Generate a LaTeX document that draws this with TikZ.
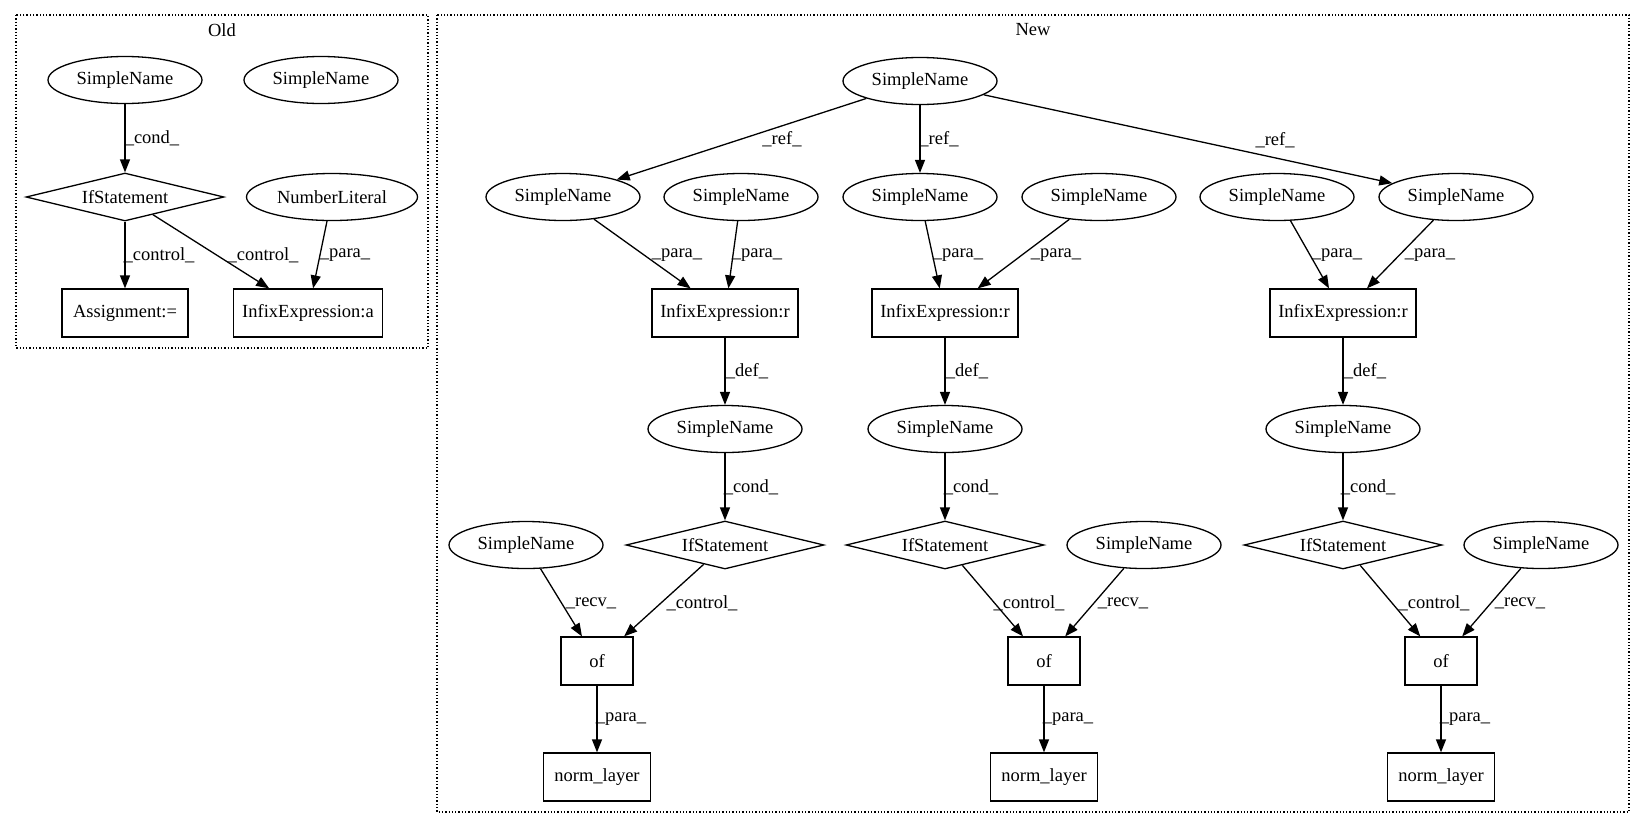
\documentclass[tikz,border=0pt]{standalone}
\usepackage{fontspec}
\setmainfont{Liberation Serif}
\usetikzlibrary{shapes.geometric,arrows.meta}
\tikzset{
  every node/.style={font=\fontsize{18.5}{22}\selectfont},
  ell/.style={draw,ellipse,line width=1.3pt,inner sep=0pt,minimum width=154pt,minimum height=47pt},
  dia/.style={draw,diamond,aspect=4.125,line width=1.3pt,inner sep=0pt,minimum width=198pt,minimum height=48pt},
  box/.style={draw,rectangle,line width=1.3pt,inner sep=0pt,minimum height=48pt},
  edge/.style={line width=1.3pt,-{Triangle[length=13pt,width=10pt]}},
  lbl/.style={inner sep=0pt},
  clus/.style={line width=1.3pt,dotted}
}
\begin{document}
\begin{tikzpicture}[x=1pt,y=-1pt]
      \useasboundingbox (0,0) rectangle (1645,828);
      % clusters
      \draw[clus] (16,15) rectangle (428,348);
      \draw[clus] (437,15) rectangle (1629,812);
      \node (old) at (222,30) {Old};
      \node (new) at (1033,30) {New};
      % old
      \node[ell] (oSN1) at (125,80) {SimpleName};
      \node[ell] (oSN2) at (321,80) {SimpleName};
      \node[dia] (oIf) at (125,197) {IfStatement};
      \node[ell,minimum width=171pt] (oNum) at (332,197) {NumberLiteral};
      \node[box,minimum width=126pt] (oAssign) at (125,313) {Assignment:=};
      \node[box,minimum width=149pt] (oInfix) at (308,313) {InfixExpression:a};
      % new
      \node[ell] (top) at (920,81) {SimpleName};
      \node[ell] (sA1) at (563,197) {SimpleName};
      \node[ell] (sB1) at (741,197) {SimpleName};
      \node[ell] (sA2) at (920,197) {SimpleName};
      \node[ell] (sB2) at (1099,197) {SimpleName};
      \node[ell] (sB3) at (1277,197) {SimpleName};
      \node[ell] (sA3) at (1456,197) {SimpleName};
      \node[box,minimum width=146pt] (inf1) at (725,313) {InfixExpression:r};
      \node[box,minimum width=146pt] (inf2) at (945,313) {InfixExpression:r};
      \node[box,minimum width=146pt] (inf3) at (1343,313) {InfixExpression:r};
      \node[ell] (def1) at (725,429) {SimpleName};
      \node[ell] (def2) at (945,429) {SimpleName};
      \node[ell] (def3) at (1343,429) {SimpleName};
      \node[dia] (if1) at (725,545) {IfStatement};
      \node[dia] (if2) at (945,545) {IfStatement};
      \node[dia] (if3) at (1343,545) {IfStatement};
      \node[ell] (recv1) at (526,545) {SimpleName};
      \node[ell] (recv2) at (1144,545) {SimpleName};
      \node[ell] (recv3) at (1541,545) {SimpleName};
      \node[box,minimum width=72pt] (of1) at (597,661) {of};
      \node[box,minimum width=72pt] (of2) at (1044,661) {of};
      \node[box,minimum width=72pt] (of3) at (1441,661) {of};
      \node[box,minimum width=107pt] (norm1) at (597,777) {norm\_layer};
      \node[box,minimum width=107pt] (norm2) at (1044,777) {norm\_layer};
      \node[box,minimum width=107pt] (norm3) at (1441,777) {norm\_layer};
      % old edges
      \draw[edge] (oSN1) -- (oIf) node[lbl] at (152,138) {\_cond\_};
      \draw[edge] (oIf) -- (oAssign) node[lbl] at (159,255) {\_control\_};
      \draw[edge] (oIf) -- (oInfix) node[lbl] at (263,255) {\_control\_};
      \draw[edge] (oNum) -- (oInfix) node[lbl] at (345,255) {\_para\_};
      % new edges
      \draw[edge] (top) -- (sA1) node[lbl] at (782,139) {\_ref\_};
      \draw[edge] (top) -- (sA2) node[lbl] at (939,139) {\_ref\_};
      \draw[edge] (top) -- (sA3) node[lbl] at (1275,140) {\_ref\_};
      \draw[edge] (sA1) -- (inf1) node[lbl] at (677,255) {\_para\_};
      \draw[edge] (sB1) -- (inf1) node[lbl] at (757,255) {\_para\_};
      \draw[edge] (sA2) -- (inf2) node[lbl] at (958,255) {\_para\_};
      \draw[edge] (sB2) -- (inf2) node[lbl] at (1056,255) {\_para\_};
      \draw[edge] (sB3) -- (inf3) node[lbl] at (1337,255) {\_para\_};
      \draw[edge] (sA3) -- (inf3) node[lbl] at (1430,255) {\_para\_};
      \draw[edge] (inf1) -- (def1) node[lbl] at (747,371) {\_def\_};
      \draw[edge] (inf2) -- (def2) node[lbl] at (967,371) {\_def\_};
      \draw[edge] (inf3) -- (def3) node[lbl] at (1365,371) {\_def\_};
      \draw[edge] (def1) -- (if1) node[lbl] at (751,487) {\_cond\_};
      \draw[edge] (def2) -- (if2) node[lbl] at (971,487) {\_cond\_};
      \draw[edge] (def3) -- (if3) node[lbl] at (1368,487) {\_cond\_};
      \draw[edge] (recv1) -- (of1) node[lbl] at (591,603) {\_recv\_};
      \draw[edge] (if1) -- (of1) node[lbl] at (702,603) {\_control\_};
      \draw[edge] (if2) -- (of2) node[lbl] at (1029,603) {\_control\_};
      \draw[edge] (recv2) -- (of2) node[lbl] at (1123,603) {\_recv\_};
      \draw[edge] (if3) -- (of3) node[lbl] at (1434,603) {\_control\_};
      \draw[edge] (recv3) -- (of3) node[lbl] at (1520,603) {\_recv\_};
      \draw[edge] (of1) -- (norm1) node[lbl] at (621,719) {\_para\_};
      \draw[edge] (of2) -- (norm2) node[lbl] at (1068,719) {\_para\_};
      \draw[edge] (of3) -- (norm3) node[lbl] at (1465,719) {\_para\_};
    \end{tikzpicture}
\end{document}
